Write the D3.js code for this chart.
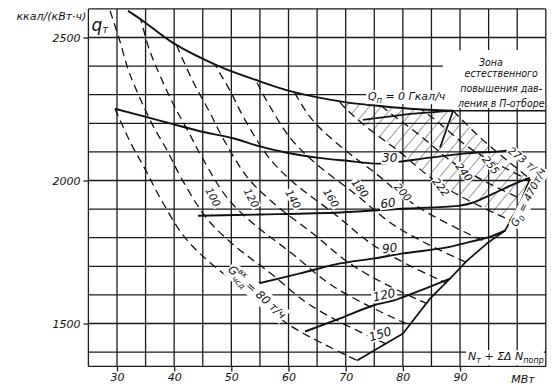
<!DOCTYPE html>
<html>
<head>
<meta charset="utf-8">
<script src="https://cdn.jsdelivr.net/npm/d3@7/dist/d3.min.js"></script>
<style>
  body { margin: 0; background: #fff; }
  svg text { font-family: "DejaVu Sans", sans-serif; font-style: italic; fill: #111; }
</style>
</head>
<body>
<svg width="558" height="388"></svg>
<script>
// оси
var xTicks = [30, 40, 50, 60, 70, 80, 90];
var yTicks = [1500, 2000, 2500];
var xGrid = [25, 30, 35, 40, 45, 50, 55, 60, 65, 70, 75, 80, 85, 90, 95, 100, 105];
var yGrid = [1400, 1500, 1600, 1700, 1800, 1900, 2000, 2100, 2200, 2300, 2400, 2500];

// Qп = const, Гкал/ч (сплошные)
var q0 = [[31.93, 2593], [34.55, 2558], [39.8, 2481], [47.67, 2401], [54.67, 2349], [60.79, 2310], [69.54, 2275], [73.74, 2265], [81.26, 2251], [88.78, 2244]];
var q30 = [[29.65, 2251], [39.45, 2199], [44.17, 2174], [50.64, 2146], [54.49, 2122], [59.74, 2097], [64.98, 2080], [70.23, 2069], [76.0, 2059], [84.75, 2080], [90.52, 2094], [96.47, 2101], [98.2, 2104]];
var q60 = [[44.17, 1877], [55.0, 1881], [69.0, 1888], [80.7, 1902], [90.0, 1912], [92.3, 1923], [94.7, 1944], [97.0, 1965], [99.6, 1989], [102.2, 2010]];
var q90 = [[54.67, 1640], [62.02, 1675], [69.02, 1710], [74.8, 1727], [80.03, 1745], [87.73, 1766], [91.23, 1783], [94.73, 1800], [97.87, 1825]];
var q120 = [[62.89, 1472], [69.02, 1518], [74.8, 1563], [78.3, 1580], [83.0, 1615], [88.25, 1657]];
var q150 = [[72.0, 1371], [80.03, 1465]];
var g0Line = [[80.03, 1465], [84.75, 1587], [88.25, 1657], [91.23, 1720], [94.73, 1780], [97.87, 1825], [99.62, 1888], [100.84, 1937], [102.24, 2006]];
var zoneTop = [[73.0, 2212], [81.3, 2233], [88.78, 2244]];
var leader = [[88.78, 2244], [86.5, 2115]];

// Gчсд = const, т/ч (штриховые)
var g80 = [[29.65, 2251], [32.45, 2129], [35.08, 2034], [37.52, 1940], [41.9, 1800], [46.45, 1710], [53.27, 1605], [60.27, 1493], [71.99, 1371]];
var g100 = [[28.8, 2593], [30.5, 2488], [31.9, 2391], [33.3, 2321], [36.1, 2199], [38.8, 2104], [41.2, 2010], [45.6, 1870], [50.1, 1780], [56.9, 1675], [63.9, 1563], [75.7, 1441], [86.7, 1354]];
var g120 = [[32.45, 2663], [34.2, 2558], [35.6, 2461], [37.0, 2391], [39.8, 2269], [42.4, 2174], [44.9, 2080], [49.25, 1940], [53.8, 1850], [60.6, 1745], [67.6, 1633], [79.3, 1511], [90.35, 1424]];
var g140 = [[36.1, 2732], [37.9, 2627], [39.3, 2530], [40.7, 2460], [43.5, 2338], [46.1, 2243], [48.5, 2149], [52.9, 2009], [57.5, 1919], [64.3, 1814], [71.3, 1702], [83.0, 1580], [94.0, 1493]];
var g160 = [[39.8, 2802], [41.5, 2697], [42.9, 2600], [44.3, 2530], [47.1, 2408], [49.8, 2313], [52.2, 2219], [56.6, 2079], [61.1, 1989], [68.0, 1884], [75.0, 1772], [86.7, 1650], [97.7, 1563]];
var g180 = [[46.6, 2670], [48.0, 2600], [50.8, 2478], [53.45, 2383], [55.9, 2289], [60.3, 2149], [64.8, 2059], [71.6, 1954], [78.6, 1842], [90.4, 1720], [101.4, 1633]];
var g200 = [[51.7, 2670], [54.5, 2548], [57.1, 2453], [59.6, 2359], [63.9, 2219], [68.5, 2129], [75.3, 2024], [82.3, 1912], [94.0, 1790], [105.0, 1703]];
var g222 = [[58.5, 2625], [61.2, 2530], [63.6, 2436], [68.0, 2296], [72.5, 2206], [79.35, 2101], [86.35, 1989], [98.1, 1867], [109.1, 1780]];
var g240 = [[64.5, 2592], [66.9, 2498], [71.3, 2358], [75.8, 2268], [82.65, 2163], [89.65, 2051], [101.4, 1929], [112.4, 1842]];
var g255 = [[67.2, 2645], [69.7, 2551], [74.0, 2411], [78.6, 2321], [85.4, 2216], [92.4, 2104], [104.1, 1982]];
var g273 = [[88.78, 2244], [93.15, 2157], [97.87, 2076], [102.24, 2006]];

// зона естественного повышения давления
var hatchZone = [[68.5, 2281], [73.74, 2265], [81.26, 2251], [88.78, 2244], [93.15, 2157], [97.87, 2076], [102.24, 2006], [100.84, 1937], [99.62, 1888], [98.8, 1860], [86.35, 1989], [79.35, 2101], [72.5, 2206]];

// подписи
var gLabels = [
    { t: "100", x: 46.8, y: 1942, a: 62 }, { t: "120", x: 53.5, y: 1939, a: 62 },
    { t: "140", x: 60.8, y: 1935, a: 60 }, { t: "160", x: 67.45, y: 1939, a: 58 },
    { t: "180", x: 72.5, y: 1973, a: 52 }, { t: "200", x: 80.0, y: 1959, a: 48 },
    { t: "222", x: 86.65, y: 1977, a: 52 }, { t: "240", x: 90.7, y: 2029, a: 52 },
    { t: "255", x: 95.4, y: 2054, a: 52 }, { t: "273 т/ч", x: 101.35, y: 2068, a: 38 }];
var qLabels = [
    { t: "30", x: 77.7, y: 2078, a: 0 }, { t: "60", x: 77.4, y: 1921, a: -8 },
    { t: "90", x: 77.7, y: 1764, a: -8 }, { t: "120", x: 76.7, y: 1600, a: -12 },
    { t: "150", x: 76.0, y: 1463, a: -18 }];
var zoneText = ["Зона", "естественного", "повышения дав-", "ления в П-отборе"];
var zoneTextY = [2400, 2362, 2310, 2258];

var svg = d3.select("svg");

var x = d3.scaleLinear().domain([25, 105]).range([88.4, 545.8]);
var y = d3.scaleLinear().domain([1350, 2600]).range([366.4, 8.9]);

function pathOf(pts) {
    return "M" + pts.map(function (p) { return x(p[0]) + "," + y(p[1]); }).join("L") + "Z";
}

var defs = svg.append("defs");
var pat = defs.append("pattern")
    .attr("id", "hatch")
    .attr("patternUnits", "userSpaceOnUse")
    .attr("width", 9)
    .attr("height", 9)
    .attr("patternTransform", "rotate(40)");
pat.append("line")
    .attr("x1", 0).attr("y1", 0).attr("x2", 0).attr("y2", 9)
    .attr("stroke", "#222").attr("stroke-width", 0.9);

var regionPts = [[27.55, 2600], [31.5, 2600]]
    .concat(q0, g273.slice(1), g0Line.slice().reverse().slice(1), [q150[0]], g80.slice().reverse());
defs.append("clipPath").attr("id", "region")
    .append("path").attr("d", pathOf(regionPts));

// сетка
var grid = svg.append("g").attr("stroke", "#1a1a1a").attr("stroke-width", 1.3);
grid.selectAll("line.v")
    .data(xGrid)
    .enter().append("line")
    .attr("x1", function (d) { return x(d); }).attr("x2", function (d) { return x(d); })
    .attr("y1", y(2600)).attr("y2", y(1350));
grid.selectAll("line.h")
    .data(yGrid.concat([1350, 2600]))
    .enter().append("line")
    .attr("x1", x(25)).attr("x2", x(105))
    .attr("y1", function (d) { return y(d); }).attr("y2", function (d) { return y(d); });

// оси
var ax = svg.append("g")
    .attr("transform", "translate(0," + y(1350) + ")")
    .call(d3.axisBottom(x).tickValues(xTicks).tickSize(5).tickPadding(2));
var ay = svg.append("g")
    .attr("transform", "translate(" + x(25) + ",0)")
    .call(d3.axisLeft(y).tickValues(yTicks).tickSize(5).tickPadding(3).tickFormat(d3.format("d")));
[ax, ay].forEach(function (a) {
    a.select(".domain").remove();
    a.attr("font-family", null).attr("font-size", null);
    a.selectAll(".tick line").attr("stroke", "#1a1a1a").attr("stroke-width", 1.3);
    a.selectAll(".tick text").style("font-size", "11px").attr("fill", "#111");
});

// штриховка зоны
svg.append("path")
    .attr("d", pathOf(hatchZone))
    .attr("fill", "url(#hatch)")
    .attr("stroke", "none");

// белое поле под надписью зоны
svg.append("rect")
    .attr("x", x(87.0)).attr("y", y(2456))
    .attr("width", x(105) - x(87.0) - 0.7).attr("height", y(2253) - y(2456))
    .attr("fill", "#fff");

var smooth = d3.line()
    .x(function (d) { return x(d[0]); })
    .y(function (d) { return y(d[1]); })
    .curve(d3.curveCatmullRom);
var straight = d3.line()
    .x(function (d) { return x(d[0]); })
    .y(function (d) { return y(d[1]); });

// штриховые линии Gчсд
var dashed = [g100, g120, g140, g160, g180, g200, g222, g240, g255];
svg.append("g")
    .attr("clip-path", "url(#region)")
    .selectAll("path")
    .data(dashed)
    .enter().append("path")
    .attr("d", smooth)
    .attr("fill", "none")
    .attr("stroke", "#111")
    .attr("stroke-width", 1.3)
    .attr("stroke-dasharray", "8,5");
svg.selectAll("path.bd")
    .data([g80, g273])
    .enter().append("path")
    .attr("d", smooth)
    .attr("fill", "none")
    .attr("stroke", "#111")
    .attr("stroke-width", 1.3)
    .attr("stroke-dasharray", "8,5");

// сплошные линии Qп
svg.append("g")
    .selectAll("path")
    .data([q0, q30, q60, q90, q120])
    .enter().append("path")
    .attr("d", smooth)
    .attr("fill", "none")
    .attr("stroke", "#111")
    .attr("stroke-width", 1.9);
svg.append("g")
    .selectAll("path")
    .data([q150, g0Line, zoneTop, leader])
    .enter().append("path")
    .attr("d", straight)
    .attr("fill", "none")
    .attr("stroke", "#111")
    .attr("stroke-width", 1.7);

// подчёркивание надписи зоны
svg.append("line")
    .attr("x1", x(88.78)).attr("x2", x(105))
    .attr("y1", y(2244)).attr("y2", y(2244))
    .attr("stroke", "#111").attr("stroke-width", 1.5);

function label(t, px, py, ang, size, bg) {
    var n = svg.append("g").attr("transform", "translate(" + px + "," + py + ") rotate(" + ang + ")");
    var txt = n.append("text")
        .attr("text-anchor", "middle")
        .attr("dy", "0.35em")
        .style("font-size", size + "px")
        .text(t);
    if (bg) {
        var b = txt.node().getBBox();
        n.insert("rect", "text")
            .attr("x", b.x - 1).attr("y", b.y + 1)
            .attr("width", b.width + 2).attr("height", b.height - 2)
            .attr("fill", "#fff");
    }
    return n;
}

gLabels.forEach(function (d) { label(d.t, x(d.x), y(d.y), d.a, 10.5, true); });
qLabels.forEach(function (d) { label(d.t, x(d.x), y(d.y), d.a, 12, true); });

// Gчсд^вх = 80 т/ч
var g80l = svg.append("g").attr("transform", "translate(" + x(54.5) + "," + y(1610) + ") rotate(42)");
var g80t = g80l.append("text").attr("text-anchor", "middle").attr("dy", "0.35em").style("font-size", "11.5px");
g80t.append("tspan").text("G");
g80t.append("tspan").attr("dy", 4).style("font-size", "8px").text("чсд");
g80t.append("tspan").attr("dx", -15).attr("dy", -10).style("font-size", "8px").text("вх");
g80t.append("tspan").attr("dx", 6).attr("dy", 6).text("= 80 т/ч");
var bb = g80t.node().getBBox();
g80l.insert("rect", "text").attr("x", bb.x - 1).attr("y", bb.y + 1).attr("width", bb.width + 2).attr("height", bb.height - 2).attr("fill", "#fff");

// G0 = 470 т/ч
var g0l = svg.append("g").attr("transform", "translate(" + x(101.9) + "," + y(1942) + ") rotate(-63)");
var g0t = g0l.append("text").attr("text-anchor", "middle").attr("dy", "0.35em").style("font-size", "10.5px");
g0t.append("tspan").text("G");
g0t.append("tspan").attr("dy", 3).style("font-size", "7.5px").text("0");
g0t.append("tspan").attr("dy", -3).text(" = 470т/ч");
bb = g0t.node().getBBox();
g0l.insert("rect", "text").attr("x", bb.x - 1).attr("y", bb.y + 1).attr("width", bb.width + 2).attr("height", bb.height - 2).attr("fill", "#fff");

// Qп = 0 Гкал/ч
var q0t = svg.append("text").attr("x", x(73.9)).attr("y", y(2281)).style("font-size", "11px");
q0t.append("tspan").text("Q");
q0t.append("tspan").attr("dy", 3).style("font-size", "8px").text("п");
q0t.append("tspan").attr("dy", -3).text(" = 0 Гкал/ч");
bb = q0t.node().getBBox();
svg.insert("rect", function () { return q0t.node(); })
    .attr("x", bb.x - 2).attr("y", bb.y).attr("width", bb.width + 4).attr("height", bb.height - 1).attr("fill", "#fff");

// зона
svg.append("g").selectAll("text")
    .data(zoneText)
    .enter().append("text")
    .attr("x", function (d, i) { return i === 0 ? x(95.4) : x(97.2); })
    .attr("y", function (d, i) { return y(zoneTextY[i]); })
    .attr("text-anchor", "middle")
    .style("font-family", "'DejaVu Sans Condensed', 'DejaVu Sans', sans-serif")
    .style("font-size", "10.5px")
    .text(function (d) { return d; });

// подпись оси X
var nt = svg.append("text").attr("x", x(105) - 2).attr("y", y(1372)).attr("text-anchor", "end").style("font-size", "11px");
nt.append("tspan").text("N");
nt.append("tspan").attr("dy", 3).style("font-size", "8px").text("т");
nt.append("tspan").attr("dy", -3).text(" + ΣΔ N");
nt.append("tspan").attr("dy", 3).style("font-size", "8px").text("попр");
bb = nt.node().getBBox();
svg.insert("rect", function () { return nt.node(); })
    .attr("x", bb.x - 2).attr("y", bb.y).attr("width", bb.width + 2).attr("height", y(1350) - bb.y - 1).attr("fill", "#fff");
svg.append("text").attr("x", x(101)).attr("y", y(1292)).attr("text-anchor", "middle").style("font-size", "11px").text("МВт");

// подпись оси Y
svg.append("text").attr("x", x(25) - 2).attr("y", y(2600) + 11).attr("text-anchor", "end").style("font-size", "11px").text("ккал/(кВт·ч)");
var qt = svg.append("text").attr("x", x(25) + 3).attr("y", y(2600) + 22).style("font-size", "17px");
qt.append("tspan").text("q");
qt.append("tspan").attr("dy", 2).style("font-size", "10px").text("т");
</script>
</body>
</html>
